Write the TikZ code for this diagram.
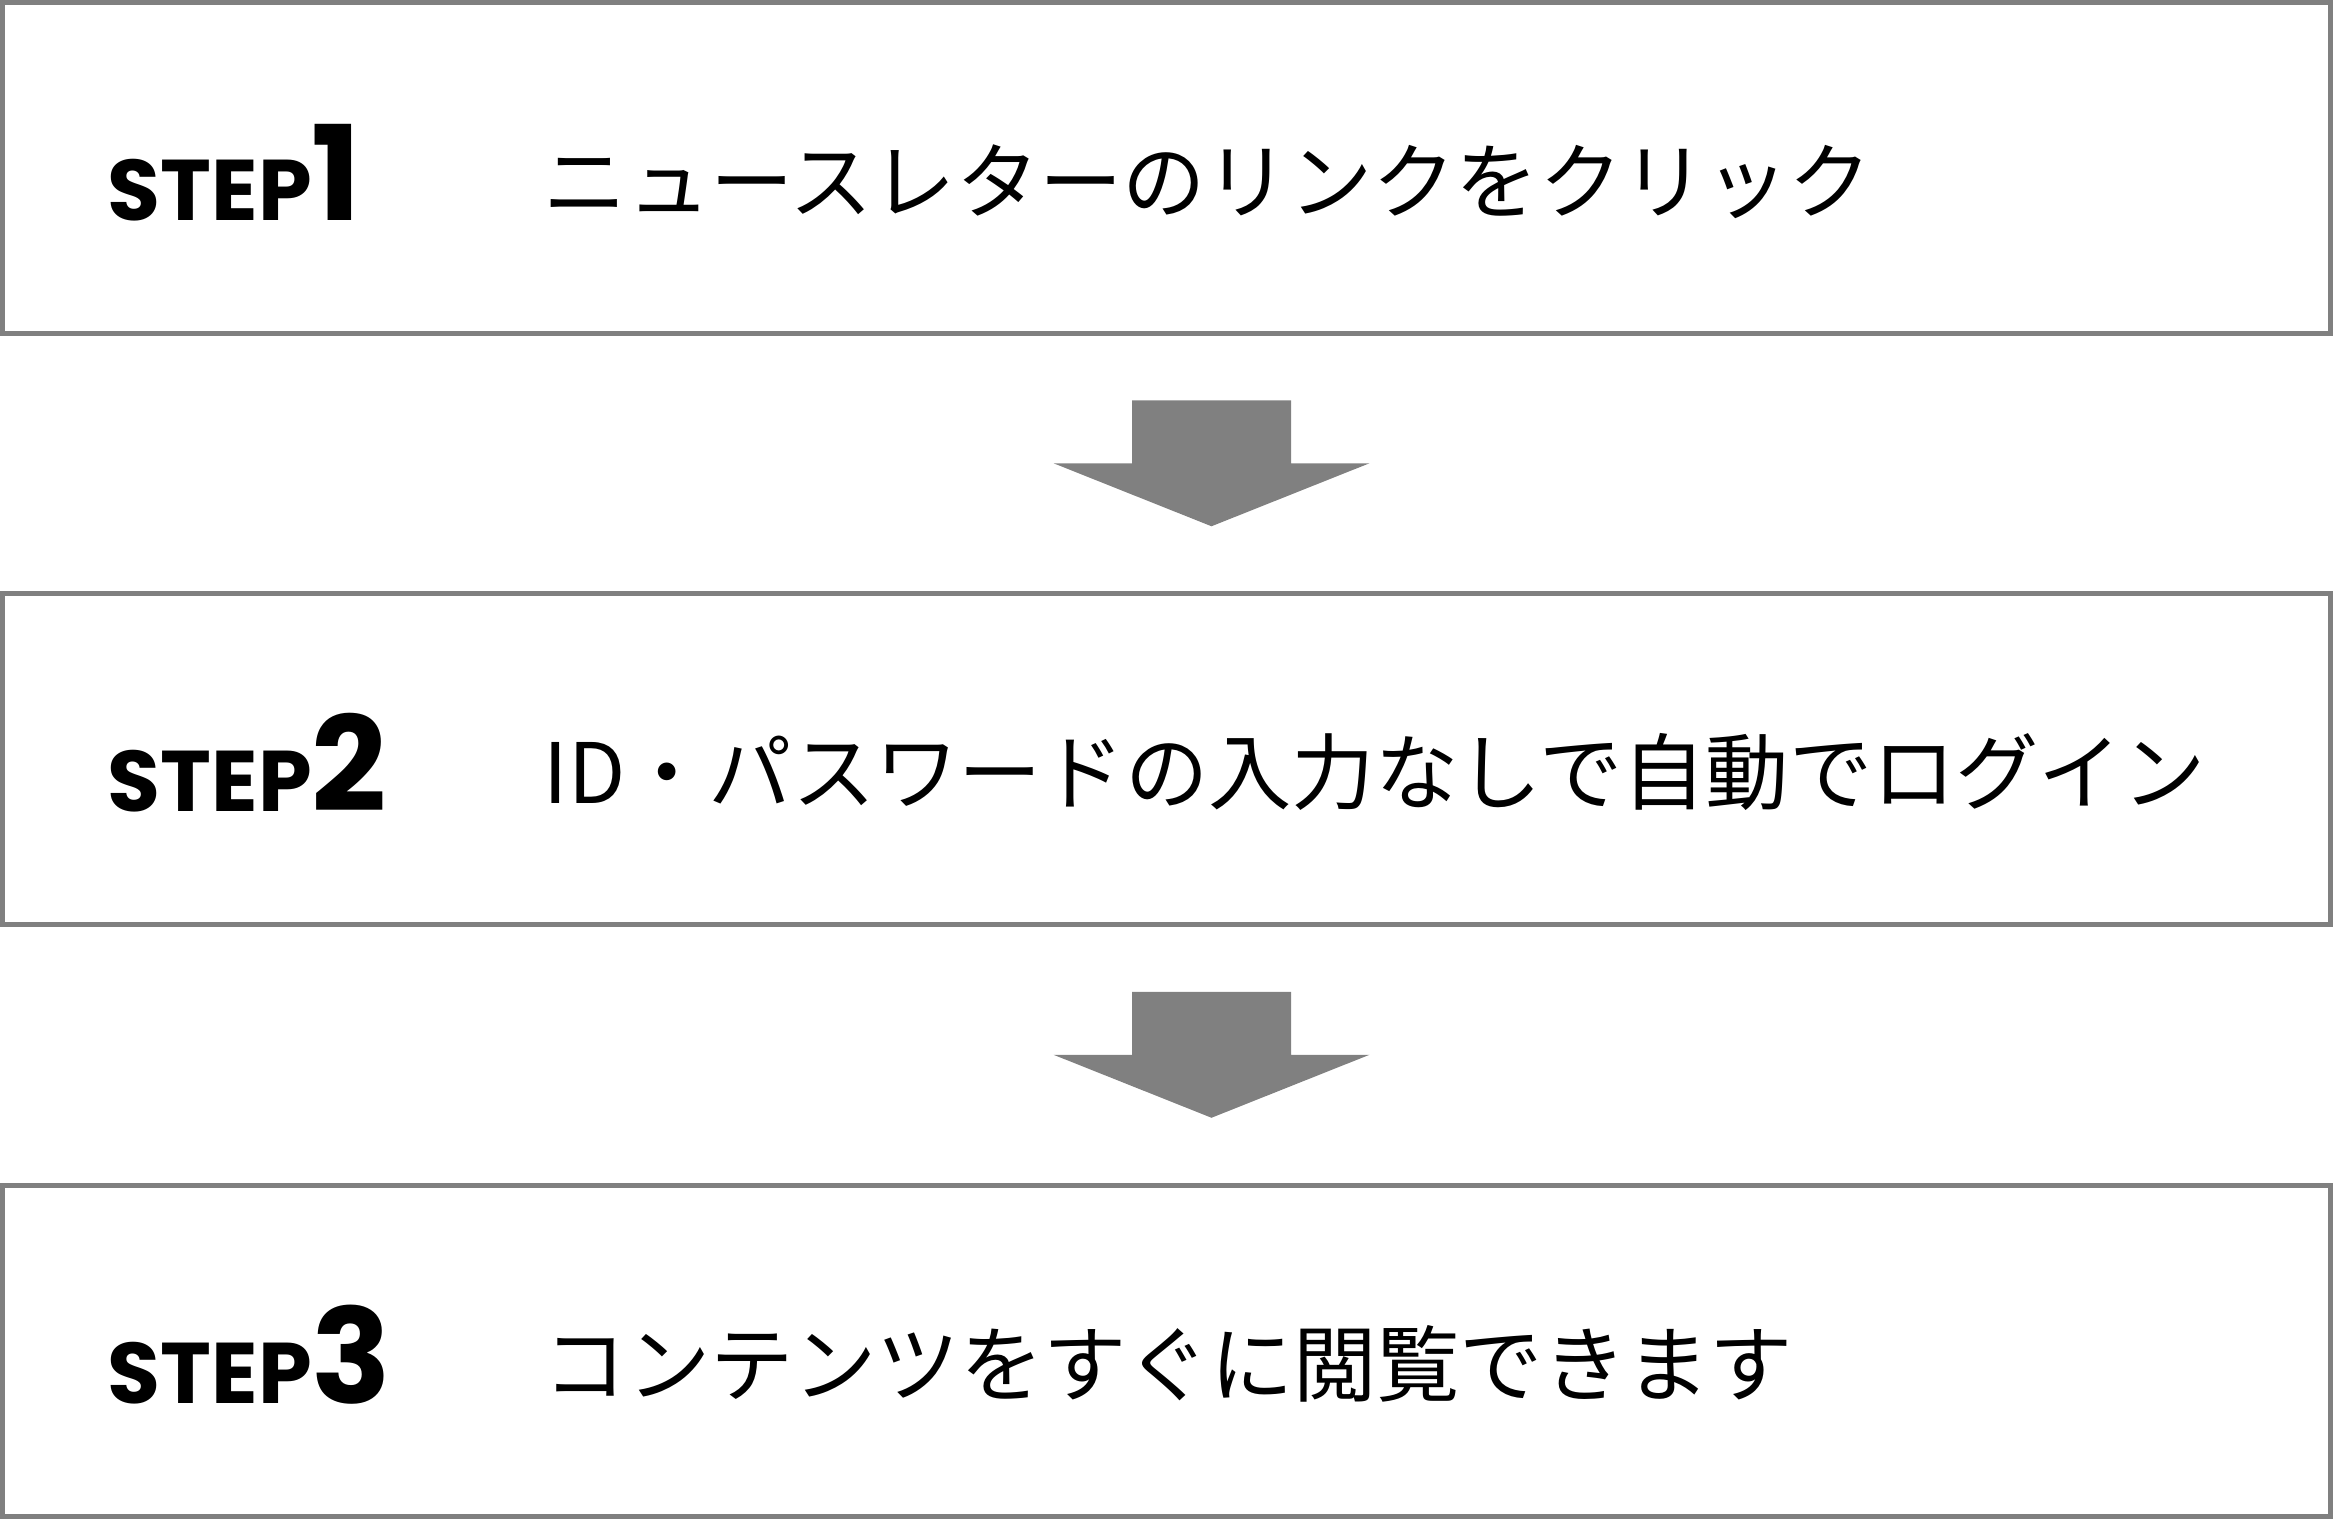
\documentclass[tikz,border=0pt]{standalone}
\usepackage{fontspec}
\usepackage{xcolor}
\newfontfamily\jpfont{Noto Sans CJK JP}
\newfontfamily\stepfont{Poppins}
\usetikzlibrary{calc}

% STEP番号
\newcommand{\stepnum}[1]{STEP{\fontsize{37.5pt}{40pt}\selectfont #1}}

\begin{document}
\begin{tikzpicture}[
  stepbox/.style={rectangle, draw=gray, line width=0.05cm, fill=white,
                  minimum width=23.28cm, minimum height=3.31cm},
  steplbl/.style={anchor=base west, inner sep=0pt,
                  font=\stepfont\bfseries\fontsize{24.5pt}{26pt}\selectfont},
  txt/.style={anchor=base west, inner sep=0pt,
              font=\jpfont\fontsize{23.7pt}{28pt}\selectfont},
  flow/.style={fill=gray}
]
\useasboundingbox (0,0) rectangle (23.33,-15.18);

\node[stepbox] (s1) at (11.665, -1.675) {};
\node[stepbox] (s2) at (11.665, -7.59 ) {};
\node[stepbox] (s3) at (11.665,-13.505) {};

% ラベル
\node[steplbl] (l1) at (1.07, -2.20 ) {\stepnum{1}};
\node[steplbl] (l2) at (1.07, -8.115) {\stepnum{2}};
\node[steplbl] (l3) at (1.07,-14.03 ) {\stepnum{3}};

\node[txt] (t1) at (5.43, -2.12 ) {ニュースレターのリンクをクリック};
\node[txt] (t2) at (5.43, -8.035) {ID・パスワードの入力なしで自動でログイン};
\node[txt] (t3) at (5.43,-13.95 ) {コンテンツをすぐに閲覧できます};

% 矢印
\foreach \a/\b in {s1/s2, s2/s3}
  \fill[flow] ($(\a.south)!0.5!(\b.north)+(-0.345,0.63)$)
    -- ++(1.59,0) -- ++(0,-0.63) -- ++(0.785,0)
    -- ++(-1.58,-0.63) -- ++(-1.58,0.63) -- ++(0.785,0) -- cycle;

\end{tikzpicture}
\end{document}
